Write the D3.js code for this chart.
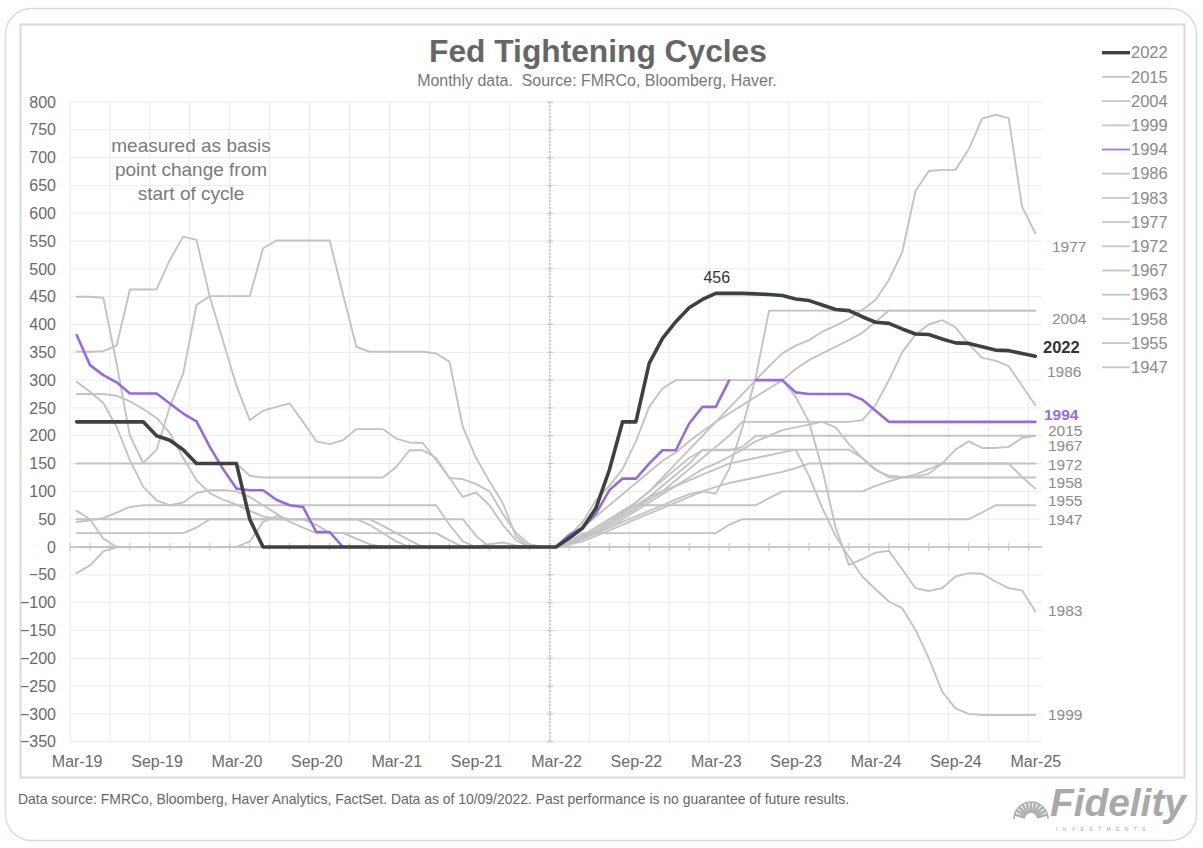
<!DOCTYPE html>
<html><head><meta charset="utf-8">
<script src="https://cdn.jsdelivr.net/npm/d3@7"></script>
<style>
body{margin:0;background:#fff;}
svg{display:block;font-family:"Liberation Sans",Arial,Helvetica,sans-serif;}
</style></head><body>
<svg id="chart" width="1203" height="848"></svg>
<script>
// month offset from start of each tightening cycle (Mar-22 = 0 for 2022)
const months = d3.range(-36, 37);
const xTickMonths = [-36,-30,-24,-18,-12,-6,0,6,12,18,24,30,36];
const xTickLabels = ["Mar-19","Sep-19","Mar-20","Sep-20","Mar-21","Sep-21","Mar-22","Sep-22","Mar-23","Sep-23","Mar-24","Sep-24","Mar-25"];
const yTicks = [-350,-300,-250,-200,-150,-100,-50,0,50,100,150,200,250,300,350,400,450,500,550,600,650,700,750,800];
const seriesNames = ["2022","2015","2004","1999","1994","1986","1983","1977","1972","1967","1963","1958","1955","1947"];

// basis point change from start of cycle, months -36..+36
const s2022 = [225,225,225,225,225,225,200,192,175,150, 150,150,150,50,0,0,0,0,0,0, 0,0,0,0,0,0,0,0,0,0, 0,0,0,0,0,0,0,
  16,34,70,138,225,225,330,375,405,430, 445,456,456,456,455,454,452,446,443,435, 427,425,414,404,402,392,383,382,374,367, 366,360,354,353,348,343];
const s1994 = [381,327,309,296,276,276,276,258,240,226, 180,140,105,102,102,85,75,72,27,27, 0,0,0,0,0,0,0,0,0,0, 0,0,0,0,0,0,0,
  22,35,60,102,123,123,150,174,174,222, 252,252,299,null,300,300,300,278,275,275, 275,275,265,245,225,225,225,225,225,225, 225,225,225,225,225,225];
const s1977 = [351,351,352,362,463,463,463,516,558,552, 450,370,290,228,245,252,258,225,190,185, 192,212,212,212,195,188,187,156,124,90, 98,75,40,12,0,0,0,
  5,15,30,45,60,80,100,125,150,175, 200,225,250,275,300,325,348,362,372,387, 398,410,426,444,480,530,640,676,678,678, 715,770,777,771,612,564];
const s1983 = [450,450,448,330,200,151,175,252,312,435, 451,451,451,451,537,551,551,551,551,551, 455,360,351,351,351,351,351,348,333,216, 160,118,79,19,0,0,0,
  20,45,84,110,140,190,252,285,300,300, 300,300,300,300,300,300,300,270,225,140, 35,-32,-22,-10,-7,-40,-74,-79,-74,-53, -47,-48,-62,-74,-78,-116];
const s1999 = [45,48,52,62,72,75,75,75,75,75, 75,75,75,75,75,75,75,75,75,75, 75,75,75,75,75,75,75,75,40,10, 0,0,0,0,0,0,0,
  5,15,25,40,55,70,90,110,130,150, 175,175,175,175,175,175,175,175,128,70, 20,-18,-53,-76,-98,-110,-149,-200,-260,-290, -300,-302,-302,-302,-302,-302];
const s2004 = [25,25,25,25,25,25,25,25,25,35, 50,50,50,50,50,50,50,50,50,50, 50,50,50,38,25,12,0,0,0,0, 0,0,0,0,0,0,0,
  15,35,55,75,95,115,135,155,170,190, 208,225,240,255,270,285,300,320,336,348, 360,372,385,405,425,425,425,425,425,425, 425,425,425,425,425,425];
const s1986 = [150,150,150,150,150,150,150,150,150,150, 150,150,150,128,125,125,125,125,125,125, 125,125,125,125,144,174,174,160,124,122, 113,100,60,25,5,0,0,
  8,16,25,40,55,70,85,100,120,140, 160,180,200,225,225,225,225,225,225,225, 225,225,228,255,300,350,382,400,408,395, 365,340,335,325,290,255];
const s1972 = [50,50,50,50,50,50,50,50,50,50, 50,50,50,50,50,50,50,50,50,50, 50,50,50,50,50,50,50,50,50,50, 20,0,0,0,0,0,0,
  5,10,20,30,40,50,60,70,80,90, 100,108,115,120,125,130,135,142,150,150, 150,150,150,150,150,150,150,150,150,150, 150,150,150,150,150,150];
const s1967 = [275,275,275,272,262,248,232,205,160,120, 97,85,76,65,55,50,50,50,50,50, 50,50,40,25,10,0,0,0,0,0, 0,0,0,0,0,0,0,
  5,15,25,35,50,65,80,95,110,125, 140,150,162,175,190,200,210,215,220,225, 215,185,160,138,128,126,126,132,150,175, 190,178,178,180,196,200];
const s1963 = [297,279,259,216,156,108,84,75,80,97, 102,102,100,90,75,60,45,35,25,25, 25,25,25,25,25,25,25,25,12,0, 0,0,0,0,0,0,0,
  5,15,25,35,45,55,65,75,85,95, 100,96,140,215,305,425,425,425,425,425, 425,425,425,425,425,425,425,425,425,425, 425,425,425,425,425,425];
const s1958 = [-47,-33,-8,0,0,0,0,0,0,0, 0,0,0,10,45,55,50,50,40,25, 25,15,5,0,0,0,0,0,0,0, 0,0,0,0,0,0,0,
  10,20,35,50,62,75,75,75,75,75, 75,75,75,75,75,88,100,100,100,100, 100,100,100,110,118,125,125,125,125,125, 125,125,125,125,125,125];
const s2015 = [65,50,15,0,0,0,0,0,0,0, 0,0,0,0,0,0,0,0,0,0, 0,0,0,0,0,0,0,0,0,0, 0,0,0,0,0,0,0,
  10,20,35,50,65,80,100,120,140,160, 174,174,174,180,200,200,200,200,200,200, 200,200,200,200,200,200,200,200,200,200, 200,200,200,200,200,200];
const s1955 = [0,0,0,0,0,0,0,0,0,0, 0,0,0,0,0,0,0,0,0,0, 0,0,0,0,0,0,0,0,0,0, 0,5,8,3,0,0,0,
  8,18,30,45,60,75,90,100,110,120, 130,140,150,155,160,165,170,175,175,175, 175,175,160,140,125,125,130,140,150,150, 150,150,150,150,126,105];
const s1947 = [0,0,0,0,0,0,0,0,0,0, 0,0,0,0,0,0,0,0,0,0, 0,0,0,0,0,0,0,0,0,0, 0,0,0,0,0,0,0,
  10,25,25,25,25,25,25,25,25,25, 25,25,40,50,50,50,50,50,50,50, 50,50,50,50,50,50,50,50,50,50, 50,62,75,75,75,75];

// right-hand end labels (value where the label sits)
const endLabels = [
  {name:"1977", v:540, dx:1052},{name:"2004", v:411, dx:1052},{name:"2022", v:359, dx:1043},
  {name:"1986", v:316, dx:1047},{name:"1994", v:238, dx:1044},{name:"2015", v:210, dx:1048},
  {name:"1967", v:182, dx:1048},{name:"1972", v:148, dx:1048},{name:"1958", v:116, dx:1048},
  {name:"1955", v:84, dx:1048},{name:"1947", v:50, dx:1048},{name:"1983", v:-115, dx:1048},
  {name:"1999", v:-302, dx:1048}];
const peakLabel = {text:"456", m:12, v:456};

const dataMap = {"2022":s2022,"2015":s2015,"2004":s2004,"1999":s1999,"1994":s1994,"1986":s1986,"1983":s1983,
  "1977":s1977,"1972":s1972,"1967":s1967,"1963":s1963,"1958":s1958,"1955":s1955,"1947":s1947};

const GREY = "#c3c3c3", DARK = "#3b4242", PURPLE = "#9a6ad6";
const colorOf = n => n==="2022" ? DARK : (n==="1994" ? PURPLE : GREY);
const widthOf = n => n==="2022" ? 3.6 : (n==="1994" ? 2.6 : 1.9);

const svg = d3.select("#chart");
const x = d3.scaleLinear().domain([-36.5, 36.5]).range([70, 1042]);
const y = d3.scaleLinear().domain([-350, 800]).range([741.7, 102]);

// card + chart frame
svg.append("rect").attr("x",5.5).attr("y",8.5).attr("width",1191).attr("height",832).attr("rx",26)
  .attr("fill","#fff").attr("stroke","#d3dde7").attr("stroke-width",1.5);
svg.append("rect").attr("x",20.5).attr("y",24.5).attr("width",1164).attr("height",753)
  .attr("fill","#fff").attr("stroke","#dadada").attr("stroke-width",2);

// gridlines
const grid = svg.append("g");
grid.selectAll("line.h").data(yTicks).join("line").attr("class","h")
  .attr("x1",x(-36.5)).attr("x2",x(36.5)).attr("y1",d=>y(d)).attr("y2",d=>y(d))
  .attr("stroke","#ebebeb").attr("stroke-width",1);
grid.selectAll("line.v").data(d3.range(-36.5, 36, 3)).join("line").attr("class","v")
  .attr("x1",d=>x(d)).attr("x2",d=>x(d)).attr("y1",y(800)).attr("y2",y(-350))
  .attr("stroke","#ebebeb").attr("stroke-width",1);

// zero axis with ticks
svg.append("line").attr("x1",x(-36.5)).attr("x2",x(36.5)).attr("y1",y(0)).attr("y2",y(0))
  .attr("stroke","#bdbdbd").attr("stroke-width",1.5);
svg.append("g").selectAll("line").data(d3.range(-36.5, 36.6, 1.5)).join("line")
  .attr("x1",d=>x(d)).attr("x2",d=>x(d)).attr("y1",y(0)-4).attr("y2",y(0)+4)
  .attr("stroke","#c4c4c4").attr("stroke-width",1);

// dashed vertical line at start of cycle
const vx = x(-0.45);
svg.append("line").attr("x1",vx).attr("x2",vx).attr("y1",y(800)).attr("y2",y(-350))
  .attr("stroke","#b8b8b8").attr("stroke-width",1.3).attr("stroke-dasharray","2,1.5");
svg.append("g").selectAll("line").data(yTicks).join("line")
  .attr("x1",vx-3).attr("x2",vx+3).attr("y1",d=>y(d)).attr("y2",d=>y(d))
  .attr("stroke","#c0c0c0").attr("stroke-width",1);

// axes labels
const yAxis = svg.append("g").attr("transform","translate(62,0)")
  .call(d3.axisLeft(y).tickValues(yTicks).tickSize(0).tickPadding(6));
yAxis.select(".domain").remove();
yAxis.selectAll("text").attr("font-size",16).attr("fill","#6a6a6a").attr("font-family","Liberation Sans, Arial, sans-serif");

const xAxis = svg.append("g").attr("transform","translate(0,750)")
  .call(d3.axisBottom(x).tickValues(xTickMonths).tickFormat((d,i)=>xTickLabels[i]).tickSize(0).tickPadding(6));
xAxis.select(".domain").remove();
xAxis.selectAll("text").attr("font-size",16).attr("fill","#6a6a6a").attr("font-family","Liberation Sans, Arial, sans-serif");

// lines
const line = d3.line().defined(d=>d.v!==null).x(d=>x(d.m)).y(d=>y(d.v));
const drawOrder = seriesNames.filter(n=>n!=="2022" && n!=="1994").concat(["1994","2022"]);
svg.append("g").selectAll("path").data(drawOrder).join("path")
  .attr("d", n => line(months.map((m,i)=>({m, v:dataMap[n][i]}))))
  .attr("fill","none").attr("stroke",colorOf).attr("stroke-width",widthOf)
  .attr("stroke-linejoin","round").attr("stroke-linecap","round");

// end labels
svg.append("g").selectAll("text").data(endLabels).join("text")
  .attr("x",d=>d.dx).attr("y",d=>y(d.v)).attr("dy","0.35em")
  .attr("font-size",d=>d.name==="2022"?16.5:15.5)
  .attr("font-weight",d=>d.name==="2022"||d.name==="1994"?"bold":"normal")
  .attr("fill",d=>d.name==="2022"?"#2f3434":(d.name==="1994"?"#9a6ad6":"#8c8c8c"))
  .text(d=>d.name);

// peak label
svg.append("text").attr("x",x(peakLabel.m)+1).attr("y",y(peakLabel.v)-10).attr("text-anchor","middle")
  .attr("font-size",16).attr("fill","#333").text(peakLabel.text);

// legend
const lg = svg.append("g");
seriesNames.forEach((n,i)=>{
  const ly = 52.7 + i*24.2;
  lg.append("line").attr("x1",1102).attr("x2",1130).attr("y1",ly).attr("y2",ly)
    .attr("stroke", n==="2022"?DARK:(n==="1994"?"#a07ad8":"#c6c6c6"))
    .attr("stroke-width", n==="2022"?3.4:1.8);
  lg.append("text").attr("x",1131).attr("y",ly).attr("dy","0.35em").attr("font-size",16.5)
    .attr("fill","#8a8a8a").text(n);
});

function fit(sel, target){
  const w = sel.node().getComputedTextLength();
  sel.attr("font-size", parseFloat(sel.attr("font-size"))*target/w);
}
// title
const title = svg.append("text").attr("x",598).attr("y",62).attr("text-anchor","middle")
  .attr("font-size",32).attr("font-weight","bold").attr("fill","#666").text("Fed Tightening Cycles");
fit(title, 338);
const sub = svg.append("text").attr("x",597).attr("y",86).attr("text-anchor","middle")
  .attr("font-size",14).attr("fill","#777").attr("xml:space","preserve")
  .text("Monthly data.  Source: FMRCo, Bloomberg, Haver.");
fit(sub, 360);

// annotation
["measured as basis","point change from","start of cycle"].forEach((t,i)=>{
  svg.append("text").attr("x",191).attr("y",152+i*24).attr("text-anchor","middle")
    .attr("font-size",19).attr("fill","#7a7a7a").text(t);
});

// footer
const foot = svg.append("text").attr("x",18).attr("y",804).attr("font-size",13).attr("fill","#666")
  .text("Data source: FMRCo, Bloomberg, Haver Analytics, FactSet. Data as of 10/09/2022. Past performance is no guarantee of future results.");
fit(foot, 832);

// Fidelity logo
const logo = svg.append("g");
const cx = 1031, cy = 819;
d3.range(-165, -14, 15).forEach(a=>{
  const r = a*Math.PI/180;
  logo.append("line").attr("x1",cx+6*Math.cos(r)).attr("y1",cy+6*Math.sin(r))
    .attr("x2",cx+17*Math.cos(r)).attr("y2",cy+17*Math.sin(r))
    .attr("stroke","#b0b0b0").attr("stroke-width",2.6);
});
logo.append("path").attr("d",`M${cx-17},${cy} A17,17 0 0 1 ${cx+17},${cy}`).attr("fill","none")
  .attr("stroke","#b0b0b0").attr("stroke-width",1.5);
const fid = logo.append("text").attr("x",1050).attr("y",816).attr("font-size",36)
  .attr("font-weight","bold").attr("font-style","italic").attr("fill","#a9a9a9").text("Fidelity");
fit(fid, 136);
logo.append("text").attr("x",1056).attr("y",831).attr("font-size",5).attr("letter-spacing",5.4)
  .attr("fill","#aaa").text("INVESTMENTS");
</script>
</body></html>
